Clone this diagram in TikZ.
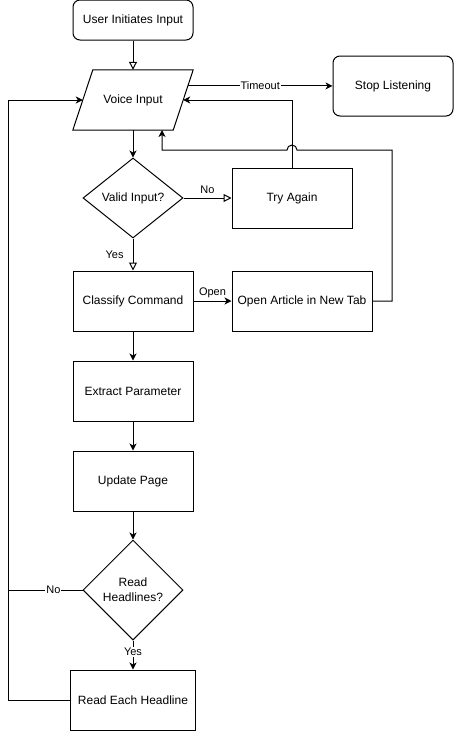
\documentclass[tikz,border=0pt]{standalone}
\usepackage{fontspec}
\setmainfont{Liberation Sans}
\usetikzlibrary{shapes.geometric,arrows.meta,calc}
\tikzset{
  box/.style={draw, line width=1pt, minimum width=120pt, minimum height=60pt, inner sep=0pt, font=\fontsize{12}{15}\selectfont, align=center},
  rbox/.style={box, rounded corners=7pt},
  dia/.style={draw, diamond, line width=1pt, inner sep=0pt, font=\fontsize{12}{15}\selectfont, align=center},
  paratext/.style={minimum width=120pt, minimum height=60pt, inner sep=0pt, font=\fontsize{12}{15}\selectfont},
  outline/.style={draw, line width=1pt, line join=miter},
  arr/.style={line width=1pt, -{Stealth[length=7pt,width=7pt,inset=2pt]}},
  oarr/.style={line width=1pt, -{Triangle[open,length=8pt,width=8pt]}},
  lbl/.style={font=\fontsize{11}{13}\selectfont, inner sep=1pt},
  wlbl/.style={lbl, fill=white}
}
\begin{document}
\begin{tikzpicture}[x=1pt,y=-1pt]
\useasboundingbox (0,0) rectangle (455,731);
\node[rbox, minimum height=40pt] (ui) at (133,20) {User Initiates Input};
\node[paratext] (vi) at (133,100) {Voice Input};
\draw[outline] ($(vi.north west)+(20,0)$) -- (vi.north east) -- ($(vi.south east)+(-20,0)$) -- (vi.south west) -- cycle;
\node[rbox] (stop) at (393,86) {Stop Listening};
\node[dia, minimum width=100pt, minimum height=80pt, aspect=2] (valid) at (133,198) {Valid Input?};
\node[box] (try) at (292,198) {Try Again};
\node[box] (cls) at (133,301) {Classify Command};
\node[box, minimum width=140pt] (oa) at (302,301) {Open Article in New Tab};
\node[box] (ext) at (133,391) {Extract Parameter};
\node[box] (upd) at (133,481) {Update Page};
\node[dia, minimum width=100pt, minimum height=100pt] (rh) at (133,590) {Read\\Headlines?};
\node[box, minimum width=125pt] (reh) at (133,700) {Read Each Headline};

\coordinate (tstart) at ($(vi.north east)!0.267!($(vi.south east)+(-20,0)$)$);
\coordinate (vir) at ($(vi.east)+(-10,0)$);
\coordinate (vil) at ($(vi.west)+(10,0)$);
\coordinate (lft) at (8,590);
\coordinate (rgt) at (392,150);
\coordinate (vib) at (162,130);

\draw[oarr] (ui) -- (vi);
\draw[arr] (tstart) -- node[wlbl]{Timeout} (tstart -| stop.west);
\draw[arr] (vi.south) -- (valid.north);
\draw[oarr] (valid.east) -- node[lbl, above=3pt]{No} (try.west);
\draw[arr] (try.north) |- (vir);
\draw[oarr] (valid.south) -- node[lbl, left=8pt]{Yes} (cls.north);
\draw[arr] (cls.east) -- node[lbl, above=2pt]{Open} (oa.west);
\draw[arr] (oa.east) -| (rgt) -- ($(try.north |- rgt)+(5,0)$) arc[start angle=0, end angle=-180, radius=5] -- (vib |- rgt) -- (vib);
\draw[arr] (cls) -- (ext);
\draw[arr] (ext) -- (upd);
\draw[arr] (upd) -- (rh);
\draw[arr] (rh) -- node[wlbl, pos=0.4]{Yes} (reh);
\draw[arr] (rh.west) -- node[wlbl, pos=0.39]{No} (lft) |- (vil);
\draw[line width=1pt] (reh.west) -| (lft);
\end{tikzpicture}
\end{document}
